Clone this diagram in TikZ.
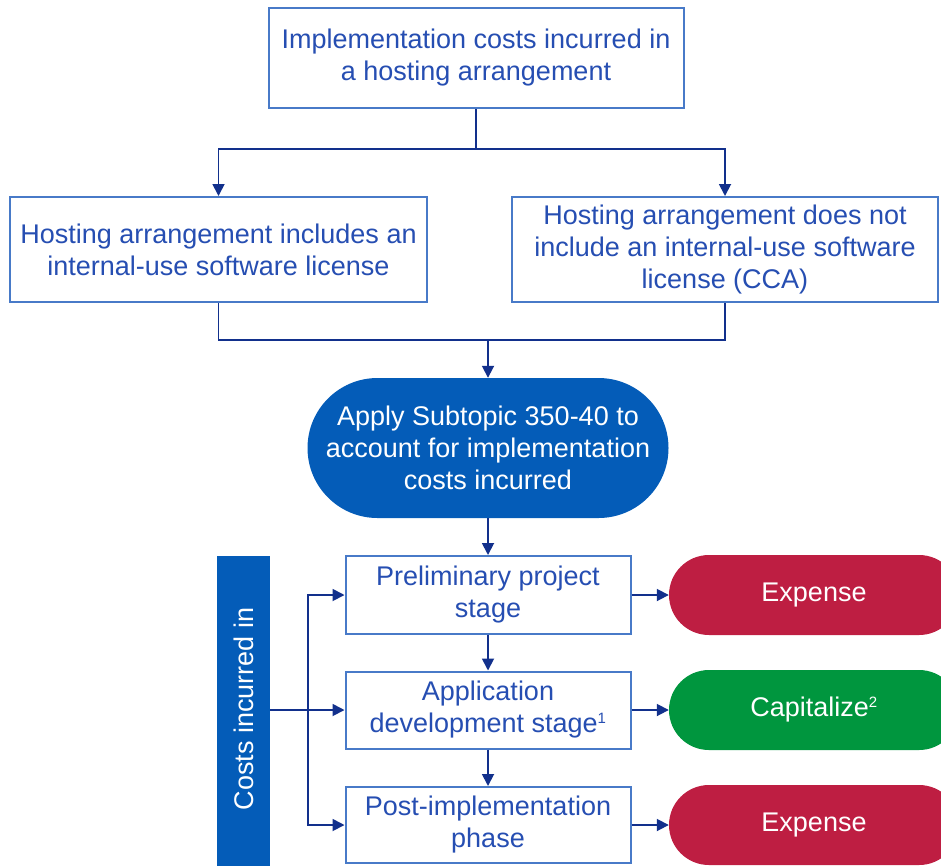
\documentclass[tikz,border=0pt]{standalone}
\usepackage{fontspec}
\setmainfont{Liberation Sans}
\usetikzlibrary{arrows.meta,calc}
\definecolor{boxline}{RGB}{72,122,200}
\definecolor{boxtext}{RGB}{38,78,178}
\definecolor{wire}{RGB}{18,48,140}
\definecolor{deepblue}{RGB}{4,92,184}
\definecolor{expred}{RGB}{190,30,66}
\definecolor{capgreen}{RGB}{0,150,62}
\tikzset{
  txt/.style={font=\fontsize{27}{32}\selectfont, align=center, inner sep=0pt},
  plainbox/.style={txt, draw=boxline, line width=2pt, fill=white, text=boxtext},
  stagebox/.style={plainbox, minimum width=285pt},
  pill/.style={txt, rounded corners=40pt, text=white, minimum height=80pt, minimum width=290pt},
  flow/.style={draw=wire, line width=1.8pt, -{Triangle[length=12pt,width=12pt]}},
  wireline/.style={draw=wire, line width=1.8pt}
}
\newcommand{\supnum}[1]{\textsuperscript{\fontsize{15}{15}\selectfont #1}}
\begin{document}
\begin{tikzpicture}[x=1pt,y=-1pt]
\useasboundingbox (0,0) rectangle (941,865);
\clip (0,0) rectangle (941,865);

% decision boxes
\node[plainbox, minimum width=415pt, minimum height=100pt] (top) at (476,58)
  {Implementation costs incurred in\\a hosting arrangement};
\node[plainbox, minimum width=417pt, minimum height=105pt] (left) at (218.5,249.5)
  {Hosting arrangement includes an\\internal-use software license};
\node[plainbox, minimum width=426pt, minimum height=105pt] (right) at (725,249.5)
  {Hosting arrangement does not\\include an internal-use software\\license (CCA)};

% terminator
\node[txt, fill=deepblue, text=white, rounded corners=70pt,
      minimum width=361pt, minimum height=140pt] (apply) at (488,448)
  {Apply Subtopic 350-40 to\\account for implementation\\costs incurred};

% stages
\node[stagebox, minimum height=78pt] (prelim) at (488,595)
  {Preliminary project\\stage};
\node[stagebox, minimum height=77pt] (appdev) at (488,710)
  {Application\\development stage\supnum{1}};
\node[stagebox, minimum height=76pt] (post) at (488,825)
  {Post-implementation\\phase};

% side bar
\node[fill=deepblue, inner sep=0pt, minimum width=53pt, minimum height=316pt]
  (bar) at (243.5,714) {};
\node[txt, text=white, rotate=90] (barlabel) at (243.5,709) {Costs incurred in};

% outcomes
\node[pill, fill=expred] (exp1) at (814,595) {Expense};
\node[pill, fill=capgreen] (cap) at (814,710) {Capitalize\supnum{2}};
\node[pill, fill=expred] (exp2) at (814,825) {Expense};

% split from the top box
\coordinate (split) at ($(top.south)+(0,40)$);
\draw[wireline] (top.south) -- (split);
\draw[flow] (split) -| (left.north);
\draw[flow] (split) -| (right.north);

% merge into the terminator
\coordinate (merge) at (apply.north |- 0,340);
\draw[wireline] (left.south) |- (merge);
\draw[wireline] (right.south) |- (merge);
\draw[flow] (merge) -- (apply.north);
\draw[flow] (apply.south) -- (prelim.north);

% stage sequence
\draw[flow] (prelim.south) -- (appdev.north);
\draw[flow] (appdev.south) -- (post.north);

% side bar fan-out
\coordinate (fan) at (308,710);
\draw[flow] (bar.east |- appdev.west) -- (appdev.west);
\draw[flow] (fan) |- (prelim.west);
\draw[flow] (fan) |- (post.west);

% outcomes
\draw[flow] (prelim.east) -- (exp1.west);
\draw[flow] (appdev.east) -- (cap.west);
\draw[flow] (post.east) -- (exp2.west);
\end{tikzpicture}
\end{document}
